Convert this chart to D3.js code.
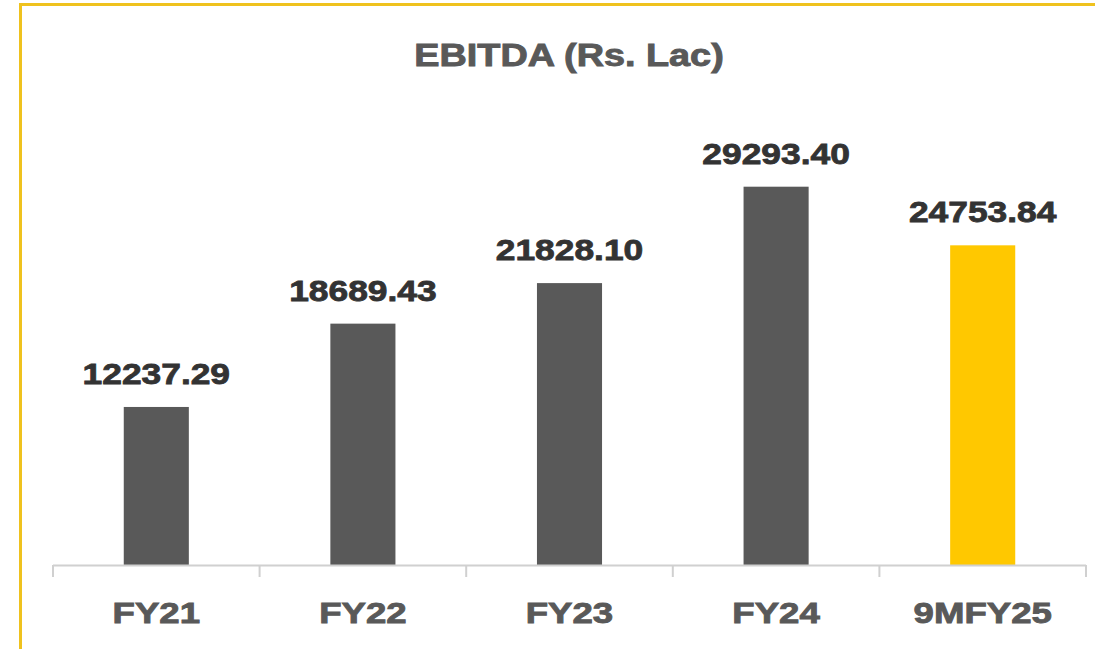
<!DOCTYPE html>
<html>
<head>
<meta charset="utf-8">
<script src="https://cdn.jsdelivr.net/npm/d3@7"></script>
<style>
  html, body { margin: 0; padding: 0; background: #fff; }
  svg { display: block; }
  text { font-family: "Liberation Sans", Arial, sans-serif; font-weight: bold; }
</style>
</head>
<body>
<div id="chart"></div>
<script>
// 資料
const categories = ['FY21', 'FY22', 'FY23', 'FY24', '9MFY25'];
const ebitda = [12237.29, 18689.43, 21828.10, 29293.40, 24753.84];
const valueLabels = ['12237.29', '18689.43', '21828.10', '29293.40', '24753.84'];
const chartTitle = 'EBITDA (Rs. Lac)';

const W = 1095, H = 649;
const stretch = 1.22; // 原圖文字被橫向拉寬

const svg = d3.select('#chart').append('svg')
    .attr('width', W)
    .attr('height', H);

// 黃色外框（只有上、左）
svg.append('rect').attr('x', 19).attr('y', 3).attr('width', W - 19).attr('height', 3).attr('fill', '#EFC21E');
svg.append('rect').attr('x', 19).attr('y', 3).attr('width', 3).attr('height', H - 3).attr('fill', '#EFC21E');

const x = d3.scaleBand()
    .domain(categories)
    .range([53, 1086])
    .paddingInner(0.685)
    .paddingOuter(0.3425);

const y = d3.scaleLinear()
    .domain([0, 35000])
    .range([565, 113]);

// 標題
svg.append('text')
    .attr('transform', `translate(569,66) scale(${stretch},1)`)
    .attr('text-anchor', 'middle')
    .attr('font-size', 31)
    .attr('fill', '#595959')
    .attr('stroke', '#595959')
    .attr('stroke-width', 0.9)
    .text(chartTitle);

// 長條
svg.selectAll('rect.bar')
    .data(ebitda)
    .enter()
    .append('rect')
    .attr('class', 'bar')
    .attr('x', (d, i) => x(categories[i]))
    .attr('width', x.bandwidth())
    .attr('y', d => y(d))
    .attr('height', d => y(0) - y(d))
    .attr('fill', (d, i) => i === categories.length - 1 ? '#FFC800' : '#595959');

// 數值標籤
svg.selectAll('text.val')
    .data(ebitda)
    .enter()
    .append('text')
    .attr('class', 'val')
    .attr('transform', (d, i) => `translate(${x(categories[i]) + x.bandwidth() / 2},${y(d) - 23}) scale(${stretch},1)`)
    .attr('text-anchor', 'middle')
    .attr('font-size', 29)
    .attr('fill', '#333333')
    .attr('stroke', '#333333')
    .attr('stroke-width', 0.8)
    .text((d, i) => valueLabels[i]);

// X 軸：線與刻度
const axis = svg.append('g');
axis.append('line')
    .attr('x1', 53).attr('x2', 1086)
    .attr('y1', 565.5).attr('y2', 565.5)
    .attr('stroke', '#D0D0D0').attr('stroke-width', 2);

const tickPos = categories.map(c => x(c) - x.step() * x.paddingInner() / 2);
tickPos.push(1086);
axis.selectAll('line.tick')
    .data(tickPos)
    .enter()
    .append('line')
    .attr('class', 'tick')
    .attr('x1', d => d).attr('x2', d => d)
    .attr('y1', 565).attr('y2', 577)
    .attr('stroke', '#D0D0D0').attr('stroke-width', 2);

axis.selectAll('text.cat')
    .data(categories)
    .enter()
    .append('text')
    .attr('class', 'cat')
    .attr('transform', d => `translate(${x(d) + x.bandwidth() / 2},623) scale(${stretch},1)`)
    .attr('text-anchor', 'middle')
    .attr('font-size', 30)
    .attr('fill', '#595959')
    .attr('stroke', '#595959')
    .attr('stroke-width', 0.9)
    .text(d => d);
</script>
</body>
</html>
